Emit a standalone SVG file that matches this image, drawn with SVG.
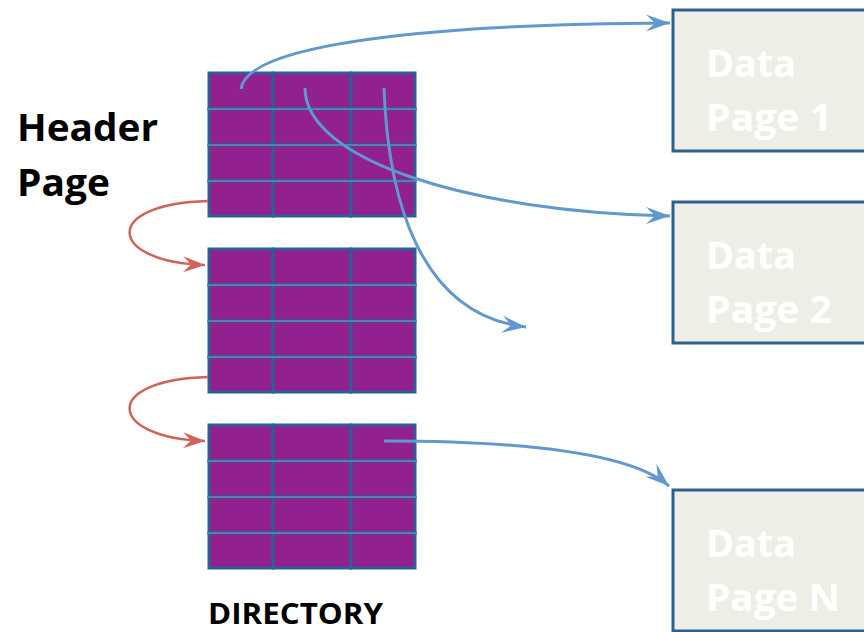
<svg xmlns="http://www.w3.org/2000/svg" width="864" height="632" viewBox="0 0 864 632">
  <style>
    .cell { fill: #92208f; stroke: #2c5f93; stroke-width: 3; }
    .sep { stroke: #7fa2c4; stroke-width: 1; }
    .page { fill: #efeee6; stroke: #2c5f93; stroke-width: 3; }
    .pagetxt { font-family: "Open Sans", "Liberation Sans", sans-serif; font-weight: 700; font-size: 38px; fill: #ffffff; }
    .label { font-family: "Open Sans", "Liberation Sans", sans-serif; font-weight: 700; fill: #000000; }
    .ptr { fill: none; stroke: #6198cf; stroke-width: 3; }
    .link { fill: none; stroke: #d0625a; stroke-width: 2.5; }
  </style>
  <defs>
    <marker id="blueHead" markerUnits="userSpaceOnUse" markerWidth="30" markerHeight="24" viewBox="-24 -12 26 24" refX="0" refY="0" orient="auto">
      <path d="M0,0 L-24,-8.5 L-15,0 L-24,8.5 Z" fill="#6198cf"/>
    </marker>
    <marker id="redHead" markerUnits="userSpaceOnUse" markerWidth="30" markerHeight="24" viewBox="-24 -12 26 24" refX="0" refY="0" orient="auto">
      <path d="M0,0 L-22,-8 L-14,0 L-22,8 Z" fill="#d0625a"/>
    </marker>
    <!-- one directory block: 4 rows x 3 columns -->
    <g id="block">
      <rect class="cell" x="209" y="0" width="64" height="36"/>
      <rect class="cell" x="273" y="0" width="78" height="36"/>
      <rect class="cell" x="351" y="0" width="64" height="36"/>
      <rect class="cell" x="209" y="36" width="64" height="36"/>
      <rect class="cell" x="273" y="36" width="78" height="36"/>
      <rect class="cell" x="351" y="36" width="64" height="36"/>
      <rect class="cell" x="209" y="72" width="64" height="36"/>
      <rect class="cell" x="273" y="72" width="78" height="36"/>
      <rect class="cell" x="351" y="72" width="64" height="36"/>
      <rect class="cell" x="209" y="108" width="64" height="35"/>
      <rect class="cell" x="273" y="108" width="78" height="35"/>
      <rect class="cell" x="351" y="108" width="64" height="35"/>
      <line class="sep" x1="208" y1="36" x2="416" y2="36"/>
      <line class="sep" x1="208" y1="72" x2="416" y2="72"/>
      <line class="sep" x1="208" y1="108" x2="416" y2="108"/>
    </g>
  </defs>

  <g id="header-label">
    <text class="label" x="17" y="141" font-size="37" textLength="141" lengthAdjust="spacingAndGlyphs">Header</text>
    <text class="label" x="17" y="196" font-size="37" textLength="93" lengthAdjust="spacingAndGlyphs">Page</text>
  </g>

  <g id="dir-block-1"><use href="#block" y="73"/></g>
  <g id="dir-block-2"><use href="#block" y="249"/></g>
  <g id="dir-block-3"><use href="#block" y="425"/></g>

  <g id="directory-label">
    <text class="label" x="208" y="624" font-size="28" textLength="175" lengthAdjust="spacingAndGlyphs">DIRECTORY</text>
  </g>

  <g id="data-page-1">
    <rect class="page" x="673" y="10" width="200" height="141"/>
    <text class="pagetxt" x="706" y="77" textLength="90" lengthAdjust="spacingAndGlyphs">Data</text>
    <text class="pagetxt" x="706" y="131" textLength="126" lengthAdjust="spacingAndGlyphs">Page 1</text>
  </g>
  <g id="data-page-2">
    <rect class="page" x="673" y="202" width="200" height="141"/>
    <text class="pagetxt" x="706" y="269" textLength="90" lengthAdjust="spacingAndGlyphs">Data</text>
    <text class="pagetxt" x="706" y="323" textLength="126" lengthAdjust="spacingAndGlyphs">Page 2</text>
  </g>
  <g id="data-page-n">
    <rect class="page" x="673" y="490" width="200" height="141"/>
    <text class="pagetxt" x="706" y="557" textLength="90" lengthAdjust="spacingAndGlyphs">Data</text>
    <text class="pagetxt" x="706" y="611" textLength="134" lengthAdjust="spacingAndGlyphs">Page N</text>
  </g>

  <g id="connectors">
    <path class="ptr" d="M241,89 C246,44 430,24 670,23" marker-end="url(#blueHead)"/>
    <path class="ptr" d="M305,88 C305,160 470,212 670,216" marker-end="url(#blueHead)"/>
    <path class="ptr" d="M384,88 C388,200 420,315 526,327" marker-end="url(#blueHead)"/>
    <path class="ptr" d="M384,441 C520,441 630,452 669,486" marker-end="url(#blueHead)"/>
    <path class="link" d="M208,201 C100,204 108,262 205,265" marker-end="url(#redHead)"/>
    <path class="link" d="M208,377 C100,380 108,438 205,441" marker-end="url(#redHead)"/>
  </g>
</svg>
